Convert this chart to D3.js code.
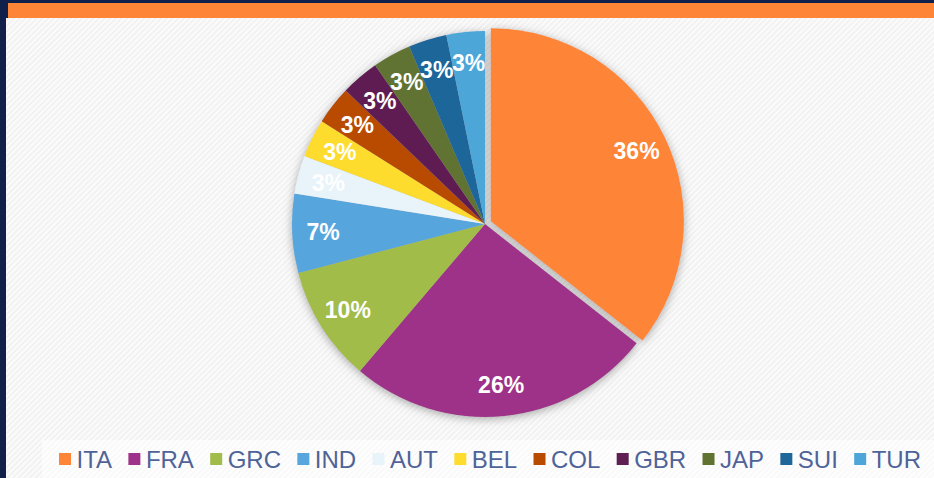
<!DOCTYPE html>
<html>
<head>
<meta charset="utf-8">
<script src="https://cdn.jsdelivr.net/npm/d3@7"></script>
<style>
  html, body { margin: 0; padding: 0; background: #111f4b; }
  svg { display: block; }
</style>
</head>
<body>
<svg id="chart" width="934" height="478"></svg>
<script>
// ---- data ----
const categories = ["ITA", "FRA", "GRC", "IND", "AUT", "BEL", "COL", "GBR", "JAP", "SUI", "TUR"];
const values = [35.6, 25.6, 9.7, 6.6, 3.21, 3.21, 3.21, 3.21, 3.21, 3.21, 3.21];
const colors = ["#FE8537", "#9E3389", "#A2BC4A", "#57A6DD", "#E8F3FA", "#FDDC2E", "#B84B00", "#5F1F52", "#617330", "#1F6699", "#4EA6D8"];
const exploded = ["ITA"];

// ---- layout ----
const W = 934, H = 478;
const svg = d3.select("#chart");
const defs = svg.append("defs");

const pat = defs.append("pattern")
  .attr("id", "hatch").attr("patternUnits", "userSpaceOnUse")
  .attr("width", 4).attr("height", 4)
  .attr("patternTransform", "rotate(45)");
pat.append("rect").attr("width", 4).attr("height", 4).attr("fill", "#f2f2f2");
pat.append("rect").attr("width", 2).attr("height", 4).attr("fill", "#fbfbfb");

const pat2 = defs.append("pattern")
  .attr("id", "hatch2").attr("patternUnits", "userSpaceOnUse")
  .attr("width", 4).attr("height", 4)
  .attr("patternTransform", "rotate(45)");
pat2.append("rect").attr("width", 4).attr("height", 4).attr("fill", "#f9f9f9");
pat2.append("rect").attr("width", 2).attr("height", 4).attr("fill", "#fefefe");

const shadow = defs.append("filter").attr("id", "shadow")
  .attr("x", "-20%").attr("y", "-20%").attr("width", "140%").attr("height", "140%");
shadow.append("feDropShadow").attr("dx", 0).attr("dy", 2)
  .attr("stdDeviation", 5).attr("flood-color", "#6f6f6f").attr("flood-opacity", 0.6);

// frame
svg.append("rect").attr("x", 0).attr("y", 0).attr("width", W).attr("height", H).attr("fill", "#111f4b");
svg.append("rect").attr("x", 6).attr("y", 18).attr("width", W - 6).attr("height", H - 18).attr("fill", "url(#hatch)");
svg.append("rect").attr("x", 8).attr("y", 3).attr("width", W - 8).attr("height", 15).attr("fill", "#FE8537");

// pie
const cx = 485, cy = 224, R = 193, labelR = 162, explode = 6.5;
const pie = d3.pie().sort(null).value(d => d.value);
const data = pie(categories.map((c, i) => ({ name: c, value: values[i], color: colors[i] })));
const total = d3.sum(values);
const arc = d3.arc().innerRadius(0).outerRadius(R);
const labelArc = d3.arc().innerRadius(labelR).outerRadius(labelR);

const offset = d => {
  if (!exploded.includes(d.data.name)) return [0, 0];
  const a = (d.startAngle + d.endAngle) / 2;
  return [Math.sin(a) * explode, -Math.cos(a) * explode];
};

const g = svg.append("g").attr("transform", `translate(${cx},${cy})`);
const slices = g.append("g").attr("filter", "url(#shadow)");
slices.selectAll("path").data(data).join("path")
  .attr("d", arc)
  .attr("fill", d => d.data.color)
  .attr("transform", d => `translate(${offset(d)})`);

g.append("g").selectAll("text").data(data).join("text")
  .attr("transform", d => {
    const c = labelArc.centroid(d), o = offset(d);
    return `translate(${c[0] + o[0]},${c[1] + o[1]})`;
  })
  .attr("text-anchor", "middle")
  .attr("dy", "0.36em")
  .attr("fill", "#ffffff")
  .attr("font-family", "Liberation Sans, Arial, sans-serif")
  .attr("font-weight", "bold")
  .attr("font-size", 23)
  .text(d => Math.round(d.data.value / total * 100) + "%");

// legend
svg.append("rect").attr("x", 42).attr("y", 440).attr("width", W - 42).attr("height", H - 440).attr("fill", "url(#hatch2)");
const leg = svg.append("g");
const lx0 = 59, lx1 = 921, ly = 459, sw = 12, tg = 5.5;
const items = categories.map((c, i) => {
  const r = leg.append("rect").attr("y", ly - sw / 2).attr("width", sw).attr("height", sw).attr("fill", colors[i]);
  const t = leg.append("text").attr("y", ly).attr("dy", "0.36em")
    .attr("font-family", "Liberation Sans, Arial, sans-serif")
    .attr("font-size", 24).attr("fill", "#4F6398").text(c);
  return { r, t, w: t.node().getComputedTextLength() };
});
const used = d3.sum(items, d => sw + tg + d.w);
const gap = (lx1 - lx0 - used) / (items.length - 1);
let x = lx0;
items.forEach(d => {
  d.r.attr("x", x);
  d.t.attr("x", x + sw + tg);
  x += sw + tg + d.w + gap;
});
</script>
</body>
</html>
